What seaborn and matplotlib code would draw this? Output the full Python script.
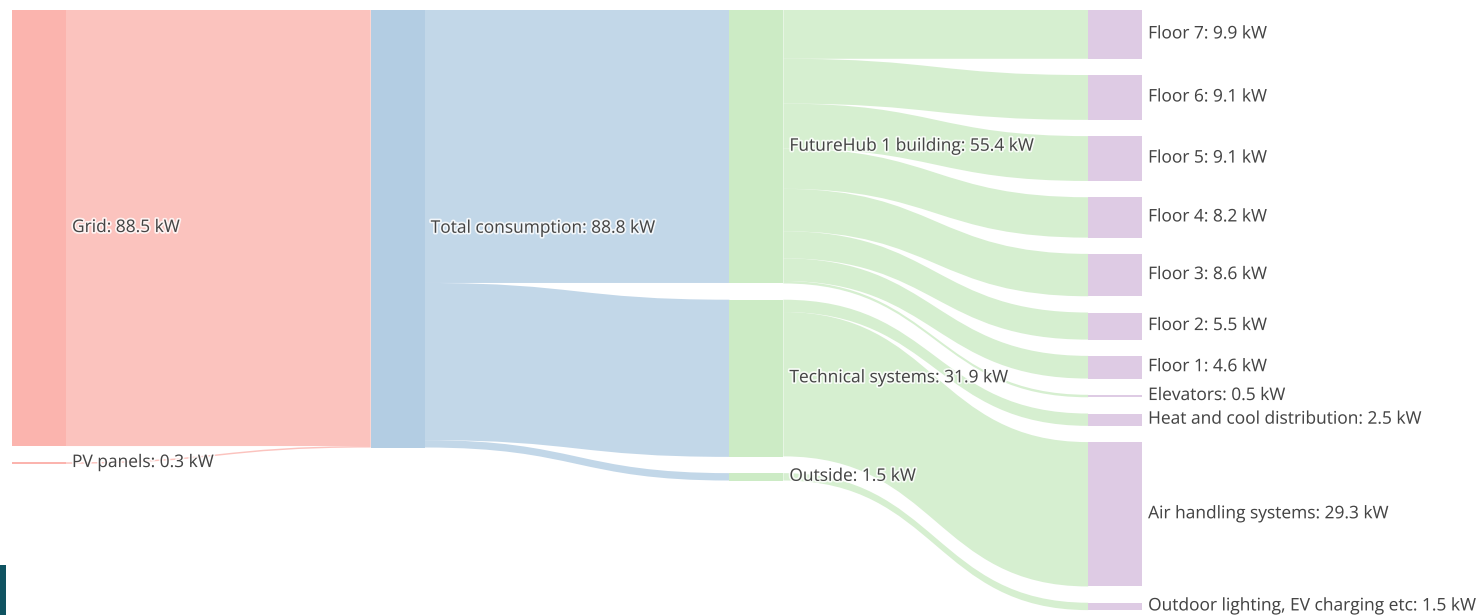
import matplotlib
matplotlib.use("Agg")
import matplotlib.pyplot as plt
import matplotlib.patheffects as pe
from matplotlib.path import Path
from matplotlib.patches import PathPatch, Rectangle
import seaborn as sns

# energy flow data (kW)
node_names = [
    "Grid", "PV panels",
    "Total consumption",
    "FutureHub 1 building", "Technical systems", "Outside",
    "Floor 7", "Floor 6", "Floor 5", "Floor 4", "Floor 3", "Floor 2", "Floor 1",
    "Elevators", "Heat and cool distribution", "Air handling systems",
    "Outdoor lighting, EV charging etc",
]
node_columns = [0, 0, 1, 2, 2, 2, 3, 3, 3, 3, 3, 3, 3, 3, 3, 3, 3]

link_sources = ["Grid", "PV panels",
                "Total consumption", "Total consumption", "Total consumption",
                "FutureHub 1 building", "FutureHub 1 building", "FutureHub 1 building",
                "FutureHub 1 building", "FutureHub 1 building", "FutureHub 1 building",
                "FutureHub 1 building", "FutureHub 1 building",
                "Technical systems", "Technical systems",
                "Outside"]
link_targets = ["Total consumption", "Total consumption",
                "FutureHub 1 building", "Technical systems", "Outside",
                "Floor 7", "Floor 6", "Floor 5", "Floor 4", "Floor 3", "Floor 2", "Floor 1",
                "Elevators",
                "Heat and cool distribution", "Air handling systems",
                "Outdoor lighting, EV charging etc"]
link_values = [88.5, 0.3,
               55.4, 31.9, 1.5,
               9.9, 9.1, 9.1, 8.2, 8.6, 5.5, 4.6, 0.5,
               2.5, 29.3,
               1.5]

sns.set_theme(style="white")
plt.rcParams["font.family"] = ["Open Sans", "DejaVu Sans"]

palette = sns.color_palette("Pastel1", 4)
text_color = "#444444"

W, H = 1483, 615
PX_PER_KW = 4.927     # vertical scale
PAD = 3.3             # gap between nodes, in kW
COL_STEP = 358.7      # px between columns
NODE_W = 54 / COL_STEP

fig = plt.figure(figsize=(W / 100, H / 100), dpi=100)
ax = fig.add_axes([0, 0, 1, 1])
ax.set_xlim(-12 / COL_STEP, (W - 12) / COL_STEP)
ax.set_ylim((H - 10) / PX_PER_KW, -10 / PX_PER_KW)
ax.axis("off")

# node sizes = max(inflow, outflow)
inflow = {n: 0.0 for n in node_names}
outflow = {n: 0.0 for n in node_names}
for s, t, v in zip(link_sources, link_targets, link_values):
    outflow[s] += v
    inflow[t] += v
size = {n: max(inflow[n], outflow[n]) for n in node_names}

# stack nodes in each column
node_y = {}
col_pos = {}
for n, c in zip(node_names, node_columns):
    y = col_pos.get(c, 0.0)
    node_y[n] = y
    col_pos[c] = y + size[n] + PAD
node_col = dict(zip(node_names, node_columns))

# links
out_off = {n: 0.0 for n in node_names}
in_off = {n: 0.0 for n in node_names}
order = sorted(range(len(link_values)),
               key=lambda i: (node_y[link_sources[i]], node_y[link_targets[i]]))
link_geo = {}
for i in order:
    s, t, v = link_sources[i], link_targets[i], link_values[i]
    y0 = node_y[s] + out_off[s]
    out_off[s] += v
    link_geo[i] = [y0, None]
order = sorted(range(len(link_values)),
               key=lambda i: (node_y[link_targets[i]], node_y[link_sources[i]]))
for i in order:
    t, v = link_targets[i], link_values[i]
    link_geo[i][1] = node_y[t] + in_off[t]
    in_off[t] += v

for i, (s, t, v) in enumerate(zip(link_sources, link_targets, link_values)):
    y0, y1 = link_geo[i]
    x0 = node_col[s] + NODE_W
    x1 = node_col[t]
    xm = (x0 + x1) / 2
    verts = [(x0, y0), (xm, y0), (xm, y1), (x1, y1),
             (x1, y1 + v), (xm, y1 + v), (xm, y0 + v), (x0, y0 + v), (x0, y0)]
    codes = [Path.MOVETO, Path.CURVE4, Path.CURVE4, Path.CURVE4,
             Path.LINETO, Path.CURVE4, Path.CURVE4, Path.CURVE4, Path.CLOSEPOLY]
    ax.add_patch(PathPatch(Path(verts, codes), facecolor=palette[node_col[s]],
                           edgecolor="none", alpha=0.8, lw=0))

# nodes and labels
for n in node_names:
    c = node_col[n]
    ax.add_patch(Rectangle((c, node_y[n]), NODE_W, size[n],
                           facecolor=palette[c], edgecolor="none"))
    val = inflow[n] if inflow[n] > 0 else outflow[n]
    ax.text(c + NODE_W + 6 / COL_STEP, node_y[n] + size[n] / 2,
            f"{n}: {val:.1f} kW", ha="left", va="center",
            fontsize=12.5, color=text_color,
            path_effects=[pe.withStroke(linewidth=2.5, foreground="white", alpha=0.8)])

# small dark marker in the lower-left corner
fig.patches.append(Rectangle((0, 0), 6 / W, 50 / H, transform=fig.transFigure,
                             facecolor="#0f5361", edgecolor="none"))

fig.savefig("out.png", dpi=100, facecolor="white")
